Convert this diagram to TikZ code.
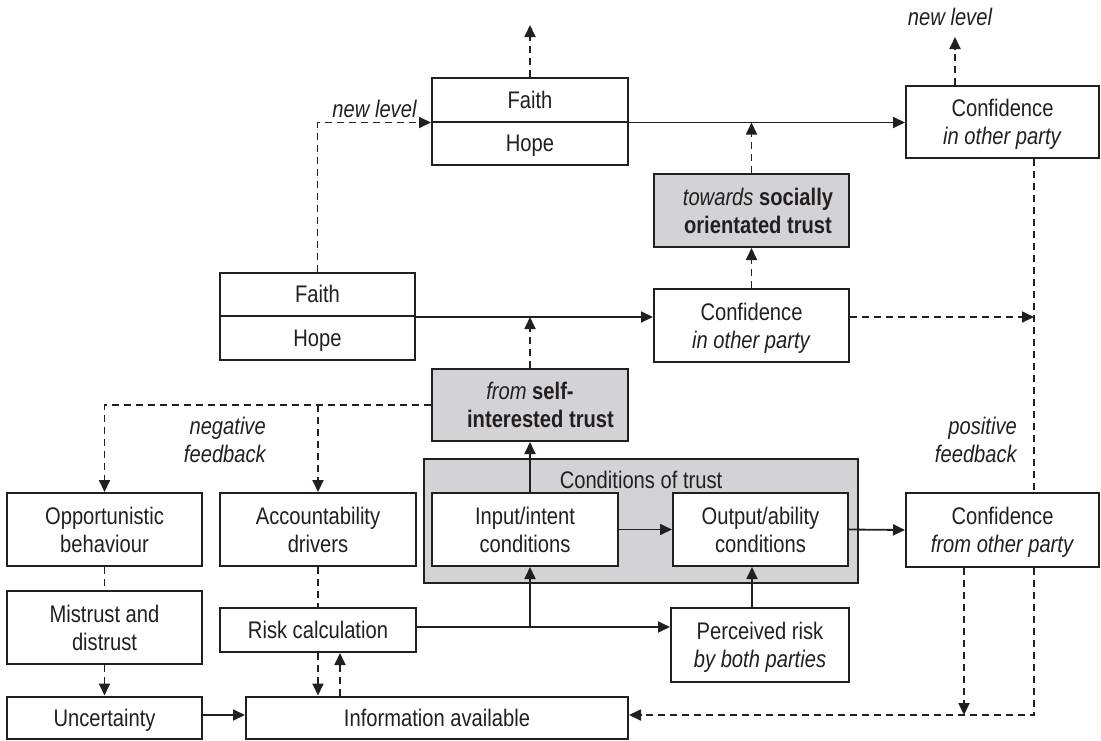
\documentclass[tikz,border=0pt]{standalone}
\usepackage{fontspec}
\setmainfont{Liberation Sans}[FakeStretch=0.84]
\usetikzlibrary{arrows.meta}
\definecolor{ink}{RGB}{35,31,32}
\definecolor{shade}{RGB}{211,211,213}

\begin{document}
\begin{tikzpicture}[x=1pt,y=-1pt,
  every node/.style={text=ink},
  font=\fontsize{24}{28}\selectfont,
  box/.style={draw=ink, line width=2pt, fill=white, inner sep=0pt, align=center, text depth=0pt},
  single/.style={text height=17.3pt},
  greybox/.style={box, fill=shade},
  conn/.style={draw=ink, line width=1.8pt},
  head/.style={-{Triangle[length=12pt,width=11pt]}},
  broken/.style={dash pattern=on 7pt off 5pt},
  tag/.style={inner sep=0pt, font=\fontsize{24}{28}\selectfont\itshape},
]
\useasboundingbox (0,0) rectangle (1101,740);

% grey frame holding the two condition boxes
\node[greybox, minimum width=434pt, minimum height=124pt] (cond) at (641,521) {};
\node[anchor=base, inner sep=0pt] (condlabel) at (641,488) {Conditions of trust};

% boxes
\node[box, single, minimum width=196pt, minimum height=43.5pt] (faithAtop) at (530,99.75) {Faith};
\node[box, single, minimum width=196pt, minimum height=43.5pt] (faithAbot) at (530,143.25) {Hope};
\node[box, single, minimum width=195pt, minimum height=43.5pt] (faithBtop) at (317.5,294.25) {Faith};
\node[box, single, minimum width=195pt, minimum height=43.5pt] (faithBbot) at (317.5,337.75) {Hope};
\node[box, minimum width=193pt, minimum height=72pt] (confTop) at (1002.5,122) {Confidence\\\textit{in other party}};
\node[greybox, minimum width=195pt, minimum height=73pt] (social) at (751.5,210.5)
  {\hspace*{13pt}\textit{towards} \textbf{socially}\\\hspace*{13pt}\textbf{orientated trust}};
\node[box, minimum width=195pt, minimum height=73pt] (confMid) at (751.5,325.5) {Confidence\\\textit{in other party}};
\node[greybox, minimum width=196pt, minimum height=72pt] (selfT) at (530,405)
  {\textit{from} \textbf{self-}\\\hspace*{21pt}\textbf{interested trust}};
\node[box, minimum width=186pt, minimum height=73pt] (input) at (525,529.5) {Input/intent\\conditions};
\node[box, minimum width=175pt, minimum height=73pt] (output) at (760.5,529.5) {Output/ability\\conditions};
\node[box, minimum width=193pt, minimum height=74pt] (confFrom) at (1002.5,530) {Confidence\\\textit{from other party}};
\node[box, minimum width=195pt, minimum height=73pt] (opp) at (104.5,529.5) {Opportunistic\\behaviour};
\node[box, minimum width=196pt, minimum height=73pt] (acc) at (318,529.5) {Accountability\\drivers};
\node[box, minimum width=195pt, minimum height=73pt] (mistrust) at (104.5,627.5) {Mistrust and\\distrust};
\node[box, single, minimum width=196pt, minimum height=44pt] (risk) at (318,630) {Risk calculation};
\node[box, minimum width=178pt, minimum height=74pt] (perceived) at (760,645) {Perceived risk\\\textit{by both parties}};
\node[box, single, minimum width=195pt, minimum height=42pt] (uncert) at (104.5,717.5) {Uncertainty};
\node[box, single, minimum width=382pt, minimum height=42pt] (info) at (437,717.5) {Information available};

% free ends and guide positions
\coordinate (upA) at (530,25);
\coordinate (upB) at (955,37);
\coordinate (vx) at (1034,0);
\coordinate (dnX) at (964,0);
\coordinate (fb) at (0,715);
\coordinate (rl) at (0,627);
\coordinate (upX) at (340,0);
\coordinate (stem) at (530,0);
\coordinate (perX) at (752,0);

% upper levels
\draw[conn, broken, head] (faithAtop.north) -- (upA);
\draw[conn, broken, head] (upB |- confTop.north) -- (upB);
\draw[conn, broken, head] (faithBtop.north) |- (faithAtop.south west);
\draw[conn, head] (faithAtop.south east) -- (faithAtop.south east -| confTop.west);
\draw[conn, broken, head] (social.north) -- (social.north |- faithAtop.south);
\draw[conn, broken, head] (confMid.north) -- (social.south);
\draw[conn, head] (faithBtop.south east) -- (faithBtop.south east -| confMid.west);
\draw[conn, broken, head] (selfT.north) -- (selfT.north |- faithBtop.south);
\draw[conn, broken, head] (confMid.east |- faithBtop.south) -- (vx |- faithBtop.south);

% positive feedback loop
\draw[conn, broken] (vx |- confTop.south) -- (vx |- confFrom.north);
\draw[conn, broken, head] (vx |- confFrom.south) -- (vx |- fb) -- (info.east |- fb);
\draw[conn, broken, head] (dnX |- confFrom.south) -- (dnX |- fb);

% negative feedback loop
\draw[conn, broken, head] (selfT.west) -| (opp.north);
\draw[conn, broken, head] (acc.north |- selfT.west) -- (acc.north);
\draw[conn, broken] (opp.south) -- (mistrust.north);
\draw[conn, broken, head] (mistrust.south) -- (uncert.north);
\draw[conn, head] (uncert.east |- fb) -- (info.west |- fb);
\draw[conn, broken] (acc.south) -- (risk.north);
\draw[conn, broken, head] (risk.south) -- (risk.south |- info.north);
\draw[conn, broken, head] (upX |- info.north) -- (upX |- risk.south);

% conditions of trust
\draw[conn, head] (risk.east |- rl) -- (perceived.west |- rl);
\draw[conn, head] (stem |- rl) -- (stem |- input.south);
\draw[conn, head] (stem |- input.north) -- (stem |- selfT.south);
\draw[conn, head] (input.east) -- (output.west);
\draw[conn, head] (output.east) -- (confFrom.west);
\draw[conn, head] (perX |- perceived.north) -- (perX |- output.south);

% labels
\node[tag, anchor=base] (lvl1) at (374.5,117) {new level};
\node[tag, anchor=base] (lvl2) at (950,25) {new level};
\node[tag, anchor=east, align=right] (negfb) at (266,440.4) {negative\\feedback};
\node[tag, anchor=east, align=right] (posfb) at (1017,440.4) {positive\\feedback};
\end{tikzpicture}
\end{document}
